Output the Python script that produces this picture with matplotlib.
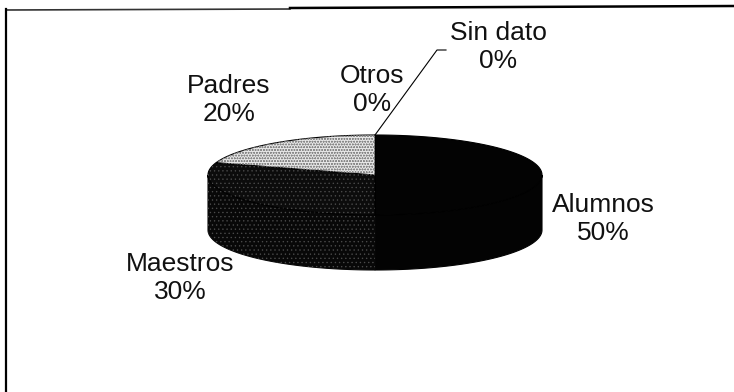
import numpy as np
import matplotlib
matplotlib.use("Agg")
import matplotlib.pyplot as plt
from matplotlib.patches import Polygon

# Survey answers: who responded
categories = ["Alumnos", "Maestros", "Padres", "Otros", "Sin dato"]
values = [50, 30, 20, 0, 0]
pct_labels = ["50%", "30%", "20%", "0%", "0%"]

# Fill styles per slice: (top colour, side colour, hatch, hatch colour)
styles = [
    ("#030303", "#030303", None, None),
    ("#0c0c0c", "#080808", "....", "#4c4c4c"),
    ("#e6e6e6", "#9a9a9a", "oooooo", "#8a8a8a"),
    ("#ffffff", "#ffffff", None, None),
    ("#ffffff", "#ffffff", None, None),
]

W, H, DPI = 734, 392, 100
fig = plt.figure(figsize=(W / DPI, H / DPI), dpi=DPI)
ax = fig.add_axes([0, 0, 1, 1])
ax.set_xlim(0, W)
ax.set_ylim(H, 0)
ax.axis("off")

# Pie geometry (pixel space, y grows downward)
cx, cy, rx, ry, depth = 375, 175, 167, 40, 55
plt.rcParams["hatch.linewidth"] = 0.45


def arc(a_from, a_to, n=120, dy=0.0):
    t = np.radians(np.linspace(a_from, a_to, n))
    return np.column_stack([cx + rx * np.cos(t), cy - ry * np.sin(t) + dy])


def add_patch(pts, face, hatch, hcolor, z, edge="black"):
    ax.add_patch(Polygon(pts, closed=True, facecolor=face, edgecolor=edge,
                         linewidth=0.8, zorder=z))
    if hatch:
        ax.add_patch(Polygon(pts, closed=True, fill=False, hatch=hatch,
                             edgecolor=hcolor, linewidth=0, zorder=z + 0.1))


total = float(sum(values))
start = 90.0
slice_angles = []
for v in values:
    sweep = 360.0 * v / total
    slice_angles.append((start, start - sweep))
    start -= sweep

# Outer side walls (only the front half of the rim is visible)
for (a0, a1), (top, side, hatch, hc), v in zip(slice_angles, styles, values):
    if v == 0:
        continue
    for k in (-1, 0, 1):
        lo, hi = -180 + 360 * k, 360 * k
        s, e = max(a1, lo), min(a0, hi)
        if e - s > 0.01:
            upper = arc(e, s)
            lower = arc(s, e, dy=depth)
            add_patch(np.vstack([upper, lower]), side, hatch, hc, 2, edge=side)

# Top faces
for (a0, a1), (top, side, hatch, hc), v in zip(slice_angles, styles, values):
    if v == 0:
        continue
    pts = np.vstack([[cx, cy], arc(a0, a1)])
    add_patch(pts, top, hatch, hc, 3)

# Data labels
label_pos = [(603, 219), (180, 278), (229, 100), (372, 90), (498, 47)]
for name, pct, (lx, ly) in zip(categories, pct_labels, label_pos):
    ax.text(lx, ly, f"{name}\n{pct}", ha="center", va="center",
            fontsize=19, family="Liberation Sans", linespacing=1.25,
            color="#111111", zorder=5)

# Leader line for the "Sin dato" slice
a_sd = np.radians(slice_angles[4][0])
px, py = cx + rx * np.cos(a_sd), cy - ry * np.sin(a_sd)
ax.plot([px, 437, 446], [py, 50, 50], color="black", linewidth=0.8, zorder=4)

# Chart area border (top and left edges)
ax.plot([6, 290], [10, 9], color="#333333", linewidth=1.2, zorder=6)
ax.plot([290, W], [8, 6], color="black", linewidth=1.8, zorder=6)
ax.plot([6, 6], [9, H], color="black", linewidth=1.6, zorder=6)

fig.savefig("out.png", dpi=DPI)
